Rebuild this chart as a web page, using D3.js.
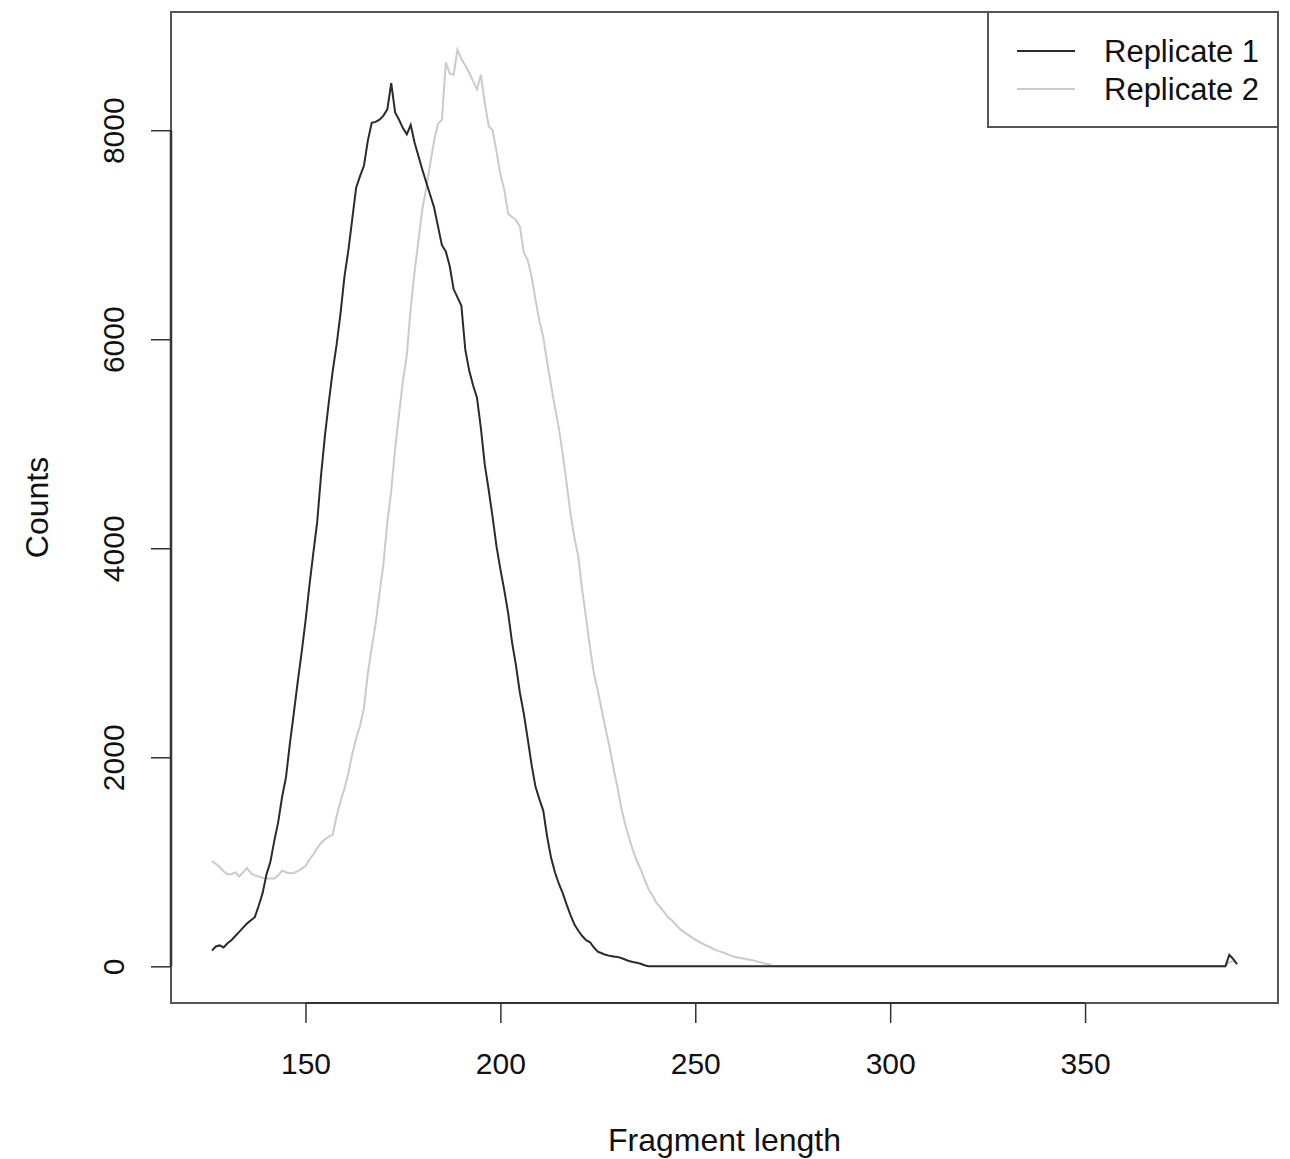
<!DOCTYPE html>
<html>
<head>
<meta charset="utf-8">
<script src="https://cdn.jsdelivr.net/npm/d3@7"></script>
<style>
  body { margin: 0; background: #fff; }
  text { font-family: "Liberation Sans", Arial, Helvetica, sans-serif; fill: #111; }
</style>
</head>
<body>
<div id="chart"></div>
<script>
// fragment length -> counts
const rep1Length = [126,127,128,129,130,131,132,133,134,135,136,137,138,139,140,141,142,143,144,145,146,147,148,149,
  150,151,152,153,154,155,156,157,158,159,160,161,162,163,164,165,166,167,168,169,170,171,172,173,174,175,176,177,178,179,
  180,181,182,183,184,185,186,187,188,189,190,191,192,193,194,195,196,197,198,199,200,201,202,203,204,205,206,207,208,209,
  210,211,212,213,214,215,216,217,218,219,220,221,222,223,224,225,226,227,228,229,230,231,232,233,234,235,236,237,238,386,387,388,389];
const rep1Counts = [150,190,200,180,220,250,290,330,370,410,440,470,580,700,880,1000,1200,1380,1620,1810,2130,2420,2720,3000,
  3300,3640,3950,4250,4700,5080,5400,5700,5950,6250,6600,6850,7150,7450,7560,7660,7900,8070,8080,8100,8140,8200,8450,8170,8100,8020,7960,8050,7880,7750,
  7620,7500,7380,7260,7080,6900,6840,6700,6480,6400,6320,5900,5700,5560,5440,5150,4800,4560,4300,4020,3800,3600,3380,3100,2880,2620,2420,2180,1930,1720,
  1600,1490,1240,1040,900,790,700,590,490,400,340,290,250,230,180,140,125,110,100,95,90,80,65,50,42,35,25,10,0,0,110,70,20];

const rep2Length = [126,127,128,129,130,131,132,133,134,135,136,137,138,139,140,141,142,143,144,145,146,147,148,149,
  150,151,152,153,154,155,156,157,158,159,160,161,162,163,164,165,166,167,168,169,170,171,172,173,174,175,176,177,178,179,
  180,181,182,183,184,185,186,187,188,189,190,191,192,193,194,195,196,197,198,199,200,201,202,203,204,205,206,207,208,209,
  210,211,212,213,214,215,216,217,218,219,220,221,222,223,224,225,226,227,228,229,230,231,232,233,234,235,236,237,238,239,
  240,241,242,243,244,245,246,247,248,249,250,251,252,253,254,255,256,257,258,259,260,261,262,263,264,265,266,267,268,269,270,386,387,388,389];
const rep2Counts = [1005,980,950,910,880,880,900,860,900,940,890,870,860,845,840,840,840,870,915,900,890,893,910,935,
  960,1020,1070,1130,1180,1215,1240,1260,1440,1580,1700,1850,2030,2180,2300,2470,2800,3050,3280,3570,3850,4250,4550,4950,5280,5600,5850,6300,6650,6950,
  7250,7450,7680,7900,8060,8100,8650,8540,8530,8770,8680,8620,8550,8470,8390,8530,8260,8040,8000,7800,7580,7430,7200,7170,7140,7080,6830,6760,6600,6380,
  6180,6020,5780,5560,5350,5150,4900,4620,4330,4100,3920,3600,3330,3050,2800,2640,2450,2270,2100,1900,1720,1520,1360,1230,1110,1010,930,830,740,680,
  610,567,520,470,440,400,360,330,305,280,255,235,215,195,180,160,145,135,120,105,92,85,78,70,62,57,45,35,25,19,0,0,40,50,25];

const xTicks = [150, 200, 250, 300, 350];
const yTicks = [0, 2000, 4000, 6000, 8000];
const seriesNames = ["Replicate 1", "Replicate 2"];
const seriesColors = ["#2b2b2b", "#cbcbcb"];

const width = 1290, height = 1159;
const plotLeft = 171, plotRight = 1278, plotTop = 12, plotBottom = 1003;

const svg = d3.select("#chart").append("svg")
  .attr("width", width)
  .attr("height", height);

// R style: 4% padding around data range
const x = d3.scaleLinear().domain([115.5, 399.5]).range([plotLeft, plotRight]);
const y = d3.scaleLinear().domain([-351, 9131]).range([plotBottom, plotTop]);

const rep1 = rep1Length.map((d, i) => ({ len: d, count: rep1Counts[i] }));
const rep2 = rep2Length.map((d, i) => ({ len: d, count: rep2Counts[i] }));

const line = d3.line().x(d => x(d.len)).y(d => y(d.count));

svg.append("path").datum(rep2)
  .attr("d", line)
  .attr("fill", "none")
  .attr("stroke", seriesColors[1])
  .attr("stroke-width", 2);

svg.append("path").datum(rep1)
  .attr("d", line)
  .attr("fill", "none")
  .attr("stroke", seriesColors[0])
  .attr("stroke-width", 2);

// plot box
svg.append("rect")
  .attr("x", plotLeft).attr("y", plotTop)
  .attr("width", plotRight - plotLeft).attr("height", plotBottom - plotTop)
  .attr("fill", "none")
  .attr("stroke", "#555")
  .attr("stroke-width", 2);

// x axis
const xAxis = svg.append("g")
  .attr("transform", `translate(0,${plotBottom})`)
  .call(d3.axisBottom(x).tickValues(xTicks).tickSize(20).tickPadding(30));
xAxis.select(".domain").remove();
xAxis.append("line")
  .attr("x1", x(xTicks[0])).attr("x2", x(xTicks[xTicks.length - 1]))
  .attr("stroke", "#333").attr("stroke-width", 2);
xAxis.selectAll(".tick line").attr("stroke", "#333").attr("stroke-width", 1.5);
xAxis.selectAll(".tick text")
  .style("font-size", "30px")
  .style("font-family", "Liberation Sans, Arial, sans-serif")
  .attr("fill", "#111");

// y axis
const yAxis = svg.append("g")
  .attr("transform", `translate(${plotLeft},0)`)
  .call(d3.axisLeft(y).tickValues(yTicks).tickSize(20).tickFormat(d3.format("d")));
yAxis.select(".domain").remove();
yAxis.append("line")
  .attr("y1", y(yTicks[0])).attr("y2", y(yTicks[yTicks.length - 1]))
  .attr("stroke", "#333").attr("stroke-width", 2.5);
yAxis.selectAll(".tick line").attr("stroke", "#333").attr("stroke-width", 1.5);
yAxis.selectAll(".tick text")
  .style("font-size", "30px")
  .style("font-family", "Liberation Sans, Arial, sans-serif")
  .attr("fill", "#111")
  .attr("text-anchor", "middle")
  .attr("dominant-baseline", "central")
  .attr("x", null).attr("dy", null)
  .attr("transform", "translate(-58,0) rotate(-90)");

// axis titles
svg.append("text")
  .attr("x", (plotLeft + plotRight) / 2).attr("y", 1151)
  .attr("text-anchor", "middle")
  .style("font-size", "32px")
  .text("Fragment length");

svg.append("text")
  .attr("transform", `translate(48,${(plotTop + plotBottom) / 2}) rotate(-90)`)
  .attr("text-anchor", "middle")
  .style("font-size", "32px")
  .text("Counts");

// legend
const legend = svg.append("g");
legend.append("rect")
  .attr("x", 988).attr("y", plotTop)
  .attr("width", plotRight - 988).attr("height", 127 - plotTop)
  .attr("fill", "#fff")
  .attr("stroke", "#555")
  .attr("stroke-width", 2);

seriesNames.forEach((name, i) => {
  const cy = 51 + i * 38;
  legend.append("line")
    .attr("x1", 1017).attr("x2", 1075)
    .attr("y1", cy).attr("y2", cy)
    .attr("stroke", seriesColors[i])
    .attr("stroke-width", 2);
  legend.append("text")
    .attr("x", 1104).attr("y", cy + 11)
    .style("font-size", "31px")
    .text(name);
});
</script>
</body>
</html>
